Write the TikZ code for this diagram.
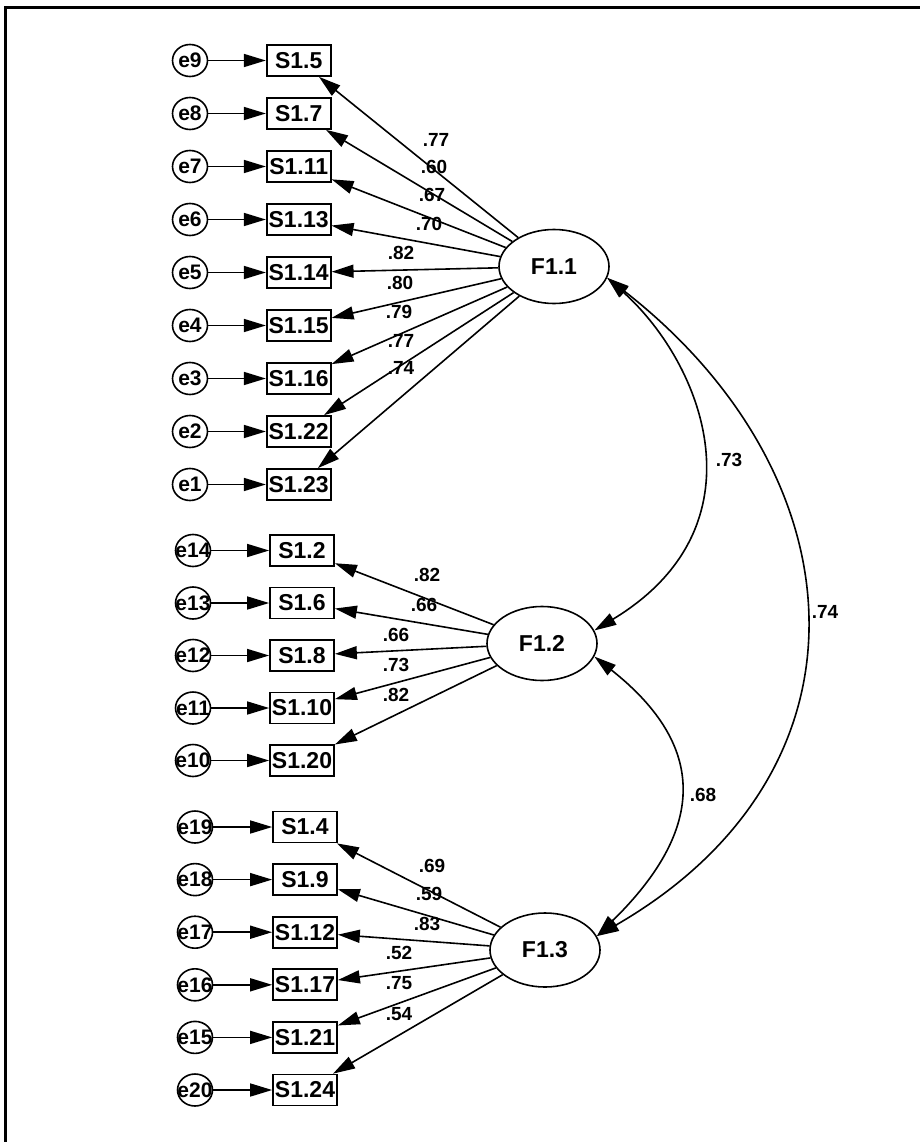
\documentclass[tikz,border=0pt]{standalone}
\usepackage{fontspec}
\setmainfont{Liberation Sans}
\usetikzlibrary{arrows.meta,shapes.geometric}
\begin{document}
\begin{tikzpicture}[x=1pt,y=-1pt,
  etxt/.style={font=\bfseries\fontsize{21}{21}\selectfont,inner sep=0pt},
  err/.style={draw,ellipse,minimum width=35pt,minimum height=32pt,inner sep=0pt,line width=1.6pt},
  obs/.style={draw,rectangle,minimum width=64pt,minimum height=31pt,inner sep=0pt,line width=1.7pt,font=\bfseries\fontsize{23}{23}\selectfont},
  lat/.style={draw,ellipse,minimum width=110pt,minimum height=74pt,inner sep=0pt,line width=1.6pt,font=\bfseries\fontsize{23}{23}\selectfont},
  arr/.style={line width=1.6pt,-{Triangle[length=22pt,width=13pt]}},
  biarr/.style={line width=1.6pt,{Triangle[length=22pt,width=13pt]}-{Triangle[length=22pt,width=13pt]}},
  lbl/.style={font=\bfseries\fontsize{19}{19}\selectfont,inner sep=0pt}]
\useasboundingbox (0,0) rectangle (920,1142);
% frame
\draw[line width=3.3pt] (5.5,1142) -- (5.5,7.5) -- (920,7.5);

% latent factors
\node[lat] (F11) at (554,266.5) {F1.1};
\node[lat] (F12) at (542,643.5) {F1.2};
\node[lat] (F13) at (545,950) {F1.3};

% group 1
\foreach \e/\s/\n/\i in {e9/S1.5/s5/0,e8/S1.7/s7/1,e7/S1.11/s11/2,e6/S1.13/s13/3,e5/S1.14/s14/4,e4/S1.15/s15/5,e3/S1.16/s16/6,e2/S1.22/s22/7,e1/S1.23/s23/8}{
  \node[err,label={[etxt]center:\e}] (\e) at (190,60.5+53*\i) {};
  \node[obs] (\n) at (298.7,60.5+53*\i) {\s};
  \draw[arr] (\e) -- (\n);
  \draw[arr] (F11) -- (\n);
}
% group 2
\foreach \e/\s/\n/\i in {e14/S1.2/s2/0,e13/S1.6/s6/1,e12/S1.8/s8/2,e11/S1.10/s10/3,e10/S1.20/s20/4}{
  \node[err,label={[etxt]center:\e}] (\e) at (193,550.5+52.5*\i) {};
  \node[obs] (\n) at (302,550.5+52.5*\i) {\s};
  \draw[arr] (\e) -- (\n);
  \draw[arr] (F12) -- (\n);
}
% group 3
\foreach \e/\s/\n/\i in {e19/S1.4/s4/0,e18/S1.9/s9/1,e17/S1.12/s12/2,e16/S1.17/s17/3,e15/S1.21/s21/4,e20/S1.24/s24/5}{
  \node[err,label={[etxt]center:\e}] (\e) at (195,827+52.6*\i) {};
  \node[obs] (\n) at (305,827+52.6*\i) {\s};
  \draw[arr] (\e) -- (\n);
  \draw[arr] (F13) -- (\n);
}

% loading labels
\node[lbl] (l1) at (436,140) {.77};
\node[lbl] (l2) at (434,167) {.60};
\node[lbl] (l3) at (432,195) {.67};
\node[lbl] (l4) at (429,224) {.70};
\node[lbl] (l5) at (401,253) {.82};
\node[lbl] (l6) at (400,283) {.80};
\node[lbl] (l7) at (399,312) {.79};
\node[lbl] (l8) at (401,341) {.77};
\node[lbl] (l9) at (401,368) {.74};

\node[lbl] (m1) at (427,575) {.82};
\node[lbl] (m2) at (424,605) {.66};
\node[lbl] (m3) at (396,635) {.66};
\node[lbl] (m4) at (396,665) {.73};
\node[lbl] (m5) at (396,695) {.82};

\node[lbl] (n1) at (432,866) {.69};
\node[lbl] (n2) at (429,894) {.59};
\node[lbl] (n3) at (427,924) {.83};
\node[lbl] (n4) at (399,953) {.52};
\node[lbl] (n5) at (399,983) {.75};
\node[lbl] (n6) at (399,1014) {.54};

% covariances
\draw[biarr] (F11.-12) .. controls +(96,86) and +(172,-104) .. (F12.14);
\draw[biarr] (F11.-12) .. controls +(254,198) and +(286,-165) .. (F13.15);
\draw[biarr] (F12.-14) .. controls +(124,98) and +(98,-96) .. (F13.15);
\node[lbl] (c1) at (729,460) {.73};
\node[lbl] (c2) at (825,612) {.74};
\node[lbl] (c3) at (703,795) {.68};
\end{tikzpicture}
\end{document}
